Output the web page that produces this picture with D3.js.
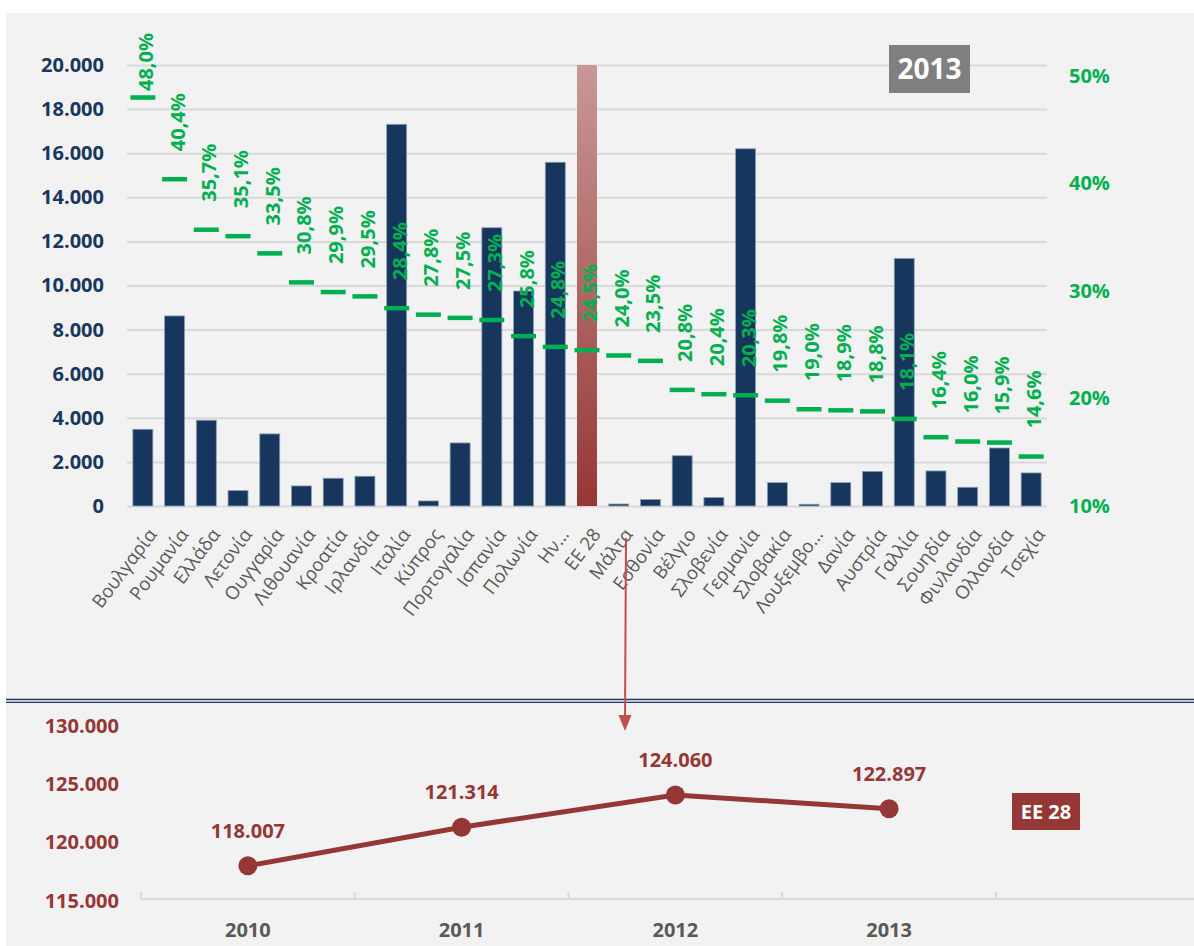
<!DOCTYPE html>
<meta charset="utf-8">
<style>
body { margin: 0; background: #fff; }
text { font-family: "Open Sans", sans-serif; }
.axis path { display: none; }
.grid line { stroke: #d9d9d9; stroke-width: 2px; }
</style>
<body>
<script src="https://cdn.jsdelivr.net/npm/d3@7"></script>
<script>

// top chart: 2013, per country
var categories = ["Βουλγαρία", "Ρουμανία", "Ελλάδα", "Λετονία", "Ουγγαρία", "Λιθουανία", "Κροατία",
  "Ιρλανδία", "Ιταλία", "Κύπρος", "Πορτογαλία", "Ισπανία", "Πολωνία", "Ην…", "ΕΕ 28", "Μάλτα",
  "Εσθονία", "Βέλγιο", "Σλοβενία", "Γερμανία", "Σλοβακία", "Λουξεμβο…", "Δανία", "Αυστρία",
  "Γαλλία", "Σουηδία", "Φινλανδία", "Ολλανδία", "Τσεχία"];
var counts = [3480, 8620, 3890, 700, 3270, 910, 1260, 1350, 17310, 230, 2860, 12620, 9750, 15590,
  122897, 90, 300, 2280, 390, 16200, 1060, 80, 1060, 1570, 11230, 1590, 850, 2630, 1500];
var shares = [48.0, 40.4, 35.7, 35.1, 33.5, 30.8, 29.9, 29.5, 28.4, 27.8, 27.5, 27.3, 25.8, 24.8,
  24.5, 24.0, 23.5, 20.8, 20.4, 20.3, 19.8, 19.0, 18.9, 18.8, 18.1, 16.4, 16.0, 15.9, 14.6];
var leftTicks = d3.range(0, 20001, 2000);
var rightTicks = [0.10, 0.20, 0.30, 0.40, 0.50];

// bottom chart: EU 28 over time
var years = ["2010", "2011", "2012", "2013"];
var eu28 = [118007, 121314, 124060, 122897];
var bottomTicks = [115000, 120000, 125000, 130000];

var gr = d3.formatLocale({decimal: ",", thousands: ".", grouping: [3], currency: ["", "€"]});
var fmtInt = gr.format(",.0f"), fmt1 = gr.format(".1f");

var width = 1194, height = 946;
var svg = d3.select("body").append("svg")
    .attr("width", width)
    .attr("height", height);

var defs = svg.append("defs");
var grad = defs.append("linearGradient").attr("id", "euGrad")
    .attr("x1", 0).attr("y1", 0).attr("x2", 0).attr("y2", 1);
grad.append("stop").attr("offset", "0%").attr("stop-color", "#c89896");
grad.append("stop").attr("offset", "100%").attr("stop-color", "#963735");

svg.append("rect").attr("x", 6).attr("y", 13).attr("width", width - 6).attr("height", height - 13)
    .attr("fill", "#f2f2f2");

// ---- top chart
var x = d3.scaleBand().domain(categories).range([127, 1047]).paddingInner(0.37).paddingOuter(0.185);
var yL = d3.scaleLinear().domain([0, 20000]).range([506, 65]);
var yR = d3.scaleLinear().domain([0.10, 0.50]).range([506, 76]);

svg.append("g").attr("class", "grid")
    .attr("transform", "translate(127,0)")
    .call(d3.axisLeft(yL).tickValues(leftTicks).tickSize(-920).tickFormat(""))
    .call(g => g.select(".domain").remove());

var la = svg.append("g").attr("class", "axis")
    .attr("transform", "translate(127,0)")
    .call(d3.axisLeft(yL).tickValues(leftTicks).tickSize(0).tickPadding(23).tickFormat(fmtInt));
la.selectAll("text").attr("fill", "#17375e").style("font-size", "20px").style("font-weight", 700);

var ra = svg.append("g").attr("class", "axis")
    .attr("transform", "translate(1047,0)")
    .call(d3.axisRight(yR).tickValues(rightTicks).tickSize(0).tickPadding(22).tickFormat(d3.format(".0%")));
ra.selectAll("text").attr("fill", "#00b050").style("font-size", "20px").style("font-weight", 700);

svg.append("g").selectAll("rect")
  .data(categories)
  .enter().append("rect")
    .attr("x", d => x(d))
    .attr("width", x.bandwidth())
    .attr("y", (d, i) => yL(Math.min(counts[i], 20000)))
    .attr("height", (d, i) => yL(0) - yL(Math.min(counts[i], 20000)))
    .attr("fill", d => d == "ΕΕ 28" ? "url(#euGrad)" : "#17365d")
    .attr("stroke", d => d == "ΕΕ 28" ? "none" : "#8ea0b8")
    .attr("stroke-width", 0.8);

var ca = svg.append("g").attr("class", "axis")
    .attr("transform", "translate(0,506)")
    .call(d3.axisBottom(x).tickSize(0));
ca.selectAll("text")
    .attr("fill", "#595959")
    .style("font-size", "18.5px")
    .attr("text-anchor", "end")
    .attr("dy", null)
    .attr("x", -14)
    .attr("y", 29)
    .attr("transform", "rotate(-53)");

var marks = svg.append("g").selectAll("g")
  .data(categories)
  .enter().append("g");
marks.append("rect")
    .attr("x", d => x(d) + x.bandwidth() / 2 - 12.5)
    .attr("y", (d, i) => yR(shares[i] / 100) - 2.25)
    .attr("width", 25)
    .attr("height", 4.5)
    .attr("fill", "#00b050");
marks.append("text")
    .attr("fill", "#00b050")
    .style("font-size", "20px")
    .style("font-weight", 700)
    .attr("dy", "0.35em")
    .text((d, i) => fmt1(shares[i]) + "%")
    .attr("transform", function(d, i) {
      var len = this.getComputedTextLength();
      var ly = Math.max(yR(shares[i] / 100) - 28, 33 + len);
      return "translate(" + (x(d) + x.bandwidth() / 2 + 3) + "," + ly + ") rotate(-90)";
    });

svg.append("rect").attr("x", 889).attr("y", 45).attr("width", 81).attr("height", 48).attr("fill", "#7f7f7f");
svg.append("text").attr("x", 929.5).attr("y", 69).attr("dy", "0.36em").attr("text-anchor", "middle")
    .attr("fill", "#fff").style("font-size", "28px").style("font-weight", 700).text("2013");

// separator
svg.append("line").attr("x1", 6).attr("x2", width).attr("y1", 699.5).attr("y2", 699.5)
    .attr("stroke", "#1f3864").attr("stroke-width", 1.3);
svg.append("line").attr("x1", 6).attr("x2", width).attr("y1", 702.3).attr("y2", 702.3)
    .attr("stroke", "#1f3864").attr("stroke-width", 1.3);

// arrow from the EU bar to the lower panel
svg.append("line").attr("x1", 626).attr("y1", 538).attr("x2", 625).attr("y2", 718)
    .attr("stroke", "#c0504d").attr("stroke-width", 2);
svg.append("path").attr("d", "M618.5,715L631.5,715L625,731Z").attr("fill", "#c0504d");

// ---- bottom chart
var xB = d3.scaleBand().domain(years).range([141, 996]);
var yB = d3.scaleLinear().domain([115000, 130000]).range([901, 725.6]);
var red = "#953735";

svg.append("line").attr("x1", 141).attr("x2", width).attr("y1", 899).attr("y2", 899)
    .attr("stroke", "#d9d9d9").attr("stroke-width", 2);
svg.append("g").selectAll("line")
  .data(years.concat(["end"]))
  .enter().append("line")
    .attr("x1", d => d == "end" ? xB(years[years.length - 1]) + xB.bandwidth() : xB(d))
    .attr("x2", d => d == "end" ? xB(years[years.length - 1]) + xB.bandwidth() : xB(d))
    .attr("y1", 899).attr("y2", 892)
    .attr("stroke", "#d9d9d9").attr("stroke-width", 2);

var xa = svg.append("g").attr("class", "axis")
    .attr("transform", "translate(0,899)")
    .call(d3.axisBottom(xB).tickSize(0).tickPadding(24));
xa.selectAll("text").attr("fill", "#595959").style("font-size", "20px").style("font-weight", 700);

var ya = svg.append("g").attr("class", "axis")
    .attr("transform", "translate(141,0)")
    .call(d3.axisLeft(yB).tickValues(bottomTicks).tickSize(0).tickPadding(22).tickFormat(fmtInt));
ya.selectAll("text").attr("fill", red).style("font-size", "20px").style("font-weight", 700);

var line = d3.line()
    .x((d, i) => xB(years[i]) + xB.bandwidth() / 2)
    .y(d => yB(d));
svg.append("path").datum(eu28)
    .attr("d", line)
    .attr("fill", "none")
    .attr("stroke", red)
    .attr("stroke-width", 5);

var pts = svg.append("g").selectAll("g")
  .data(eu28)
  .enter().append("g")
    .attr("transform", (d, i) => "translate(" + (xB(years[i]) + xB.bandwidth() / 2) + "," + yB(d) + ")");
pts.append("circle").attr("r", 9.5).attr("fill", red);
pts.append("text")
    .attr("y", -35)
    .attr("dy", "0.35em")
    .attr("text-anchor", "middle")
    .attr("fill", red)
    .style("font-size", "20px")
    .style("font-weight", 700)
    .text(d => fmtInt(d));

svg.append("rect").attr("x", 1012).attr("y", 793).attr("width", 68).attr("height", 37).attr("fill", red);
svg.append("text").attr("x", 1046).attr("y", 811.5).attr("dy", "0.36em").attr("text-anchor", "middle")
    .attr("fill", "#fff").style("font-size", "20px").style("font-weight", 700).text("ΕΕ 28");

</script>
